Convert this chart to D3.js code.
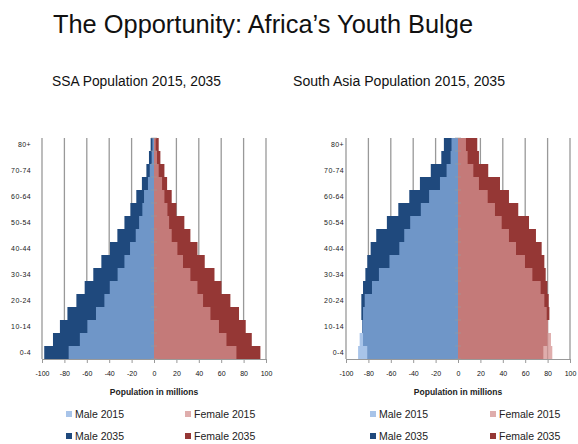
<!DOCTYPE html>
<html>
<head>
<meta charset="utf-8">
<script src="https://cdn.jsdelivr.net/npm/d3@7"></script>
<style>
    body { margin: 0; background: #fff; }
    svg { display: block; font-family: "Liberation Sans", Arial, sans-serif; }
</style>
</head>
<body>
<div id="chart"></div>
<script>
// Age groups, bottom to top
const ageGroups = ["0-4", "5-9", "10-14", "15-19", "20-24", "25-29", "30-34", "35-39", "40-44",
    "45-49", "50-54", "55-59", "60-64", "65-69", "70-74", "75-79", "80+"];
const ageLabels = ["0-4", "10-14", "20-24", "30-34", "40-44", "50-54", "60-64", "70-74", "80+"];
const xTicks = [-100, -80, -60, -40, -20, 0, 20, 40, 60, 80, 100];

// Sub-Saharan Africa, millions
const ssaMale2015 = [76.2, 66.2, 59.5, 51.8, 44.3, 39.5, 32.5, 26.4, 21.4, 16.3, 13.3, 10.4, 8.9, 5.4, 3.8, 2.1, 1.4];
const ssaMale2035 = [98.0, 90.2, 84.0, 77.3, 69.3, 61.9, 54.2, 47.0, 39.3, 32.7, 26.4, 21.1, 15.8, 10.8, 6.8, 4.5, 3.0];
const ssaFemale2015 = [73.6, 64.7, 58.0, 50.4, 43.8, 38.8, 32.5, 25.9, 20.9, 15.8, 13.5, 12.0, 9.3, 7.2, 4.2, 2.7, 1.5];
const ssaFemale2035 = [95.0, 87.3, 81.9, 75.9, 68.2, 60.2, 54.0, 45.3, 38.8, 32.5, 27.1, 20.0, 15.8, 11.7, 9.3, 5.7, 4.2];

// South Asia, millions
const saMale2015 = [89.2, 87.8, 85.4, 84.8, 83.3, 76.8, 70.6, 61.2, 52.4, 48.0, 42.7, 33.2, 25.8, 16.1, 10.2, 6.6, 5.8];
const saMale2035 = [81.0, 84.8, 85.6, 86.3, 86.3, 84.8, 82.7, 81.0, 78.0, 73.0, 63.5, 53.3, 43.5, 34.0, 24.3, 14.9, 12.6];
const saFemale2015 = [84.2, 83.0, 80.5, 79.2, 77.1, 73.8, 66.4, 59.8, 51.8, 45.5, 39.0, 33.0, 26.5, 18.7, 13.7, 8.6, 7.1];
const saFemale2035 = [76.2, 79.8, 80.2, 81.6, 81.0, 79.8, 78.3, 77.1, 74.7, 69.6, 63.4, 53.8, 45.5, 37.5, 27.0, 18.7, 17.2];

const colors = {
    male2015: "#8bb0e1", male2035: "#1f497d",
    female2015: "#d49290", female2035: "#953735"
};
const lightOpacity = 0.75;

const width = 578, height = 444;

const svg = d3.select("#chart").append("svg")
    .attr("width", width)
    .attr("height", height);

// Main title
svg.append("text")
    .attr("x", 53).attr("y", 33)
    .attr("font-size", 26)
    .attr("textLength", 420)
    .attr("lengthAdjust", "spacingAndGlyphs")
    .attr("fill", "#111")
    .text("The Opportunity: Africa\u2019s Youth Bulge");

class Pyramid {
    constructor(opts) {
        this.opts = opts;
        this.top = 138;
        this.bottom = 359;
        this.initVis();
    }

    initVis() {
        let vis = this;
        const o = vis.opts;

        vis.g = svg.append("g");

        vis.x = d3.scaleLinear().domain([-100, 100]).range([o.left, o.left + 224]);
        vis.y = d3.scaleBand().domain(ageGroups).range([vis.bottom, vis.top]).padding(0);

        // subtitle
        vis.g.append("text")
            .attr("x", o.titleX).attr("y", 86)
            .attr("font-size", 14)
            .attr("textLength", o.titleLen)
            .attr("lengthAdjust", "spacingAndGlyphs")
            .attr("fill", "#111")
            .text(o.title);

        // vertical gridlines
        vis.g.selectAll(".grid")
            .data(xTicks)
            .join("line")
            .attr("class", "grid")
            .attr("x1", d => vis.x(d)).attr("x2", d => vis.x(d))
            .attr("y1", vis.top).attr("y2", vis.bottom)
            .attr("stroke", "#999")
            .attr("stroke-width", 1.3);

        const rows = ageGroups.map((a, i) => ({
            age: a,
            m15: o.male2015[i], m35: o.male2035[i],
            f15: o.female2015[i], f35: o.female2035[i]
        }));

        // 2035 first (dark), then 2015 semi-transparent over it
        vis.drawBars(rows, d => d.m35, -1, colors.male2035, 1);
        vis.drawBars(rows, d => d.f35, 1, colors.female2035, 1);
        vis.drawBars(rows, d => d.m15, -1, colors.male2015, lightOpacity);
        vis.drawBars(rows, d => d.f15, 1, colors.female2015, lightOpacity);

        // small boundary ticks on the centre axis
        const x0 = vis.x(0);
        vis.g.selectAll(".ytick")
            .data(d3.range(ageGroups.length + 1))
            .join("line")
            .attr("class", "ytick")
            .attr("x1", x0 - 3).attr("x2", x0 + 3)
            .attr("y1", i => vis.bottom - i * vis.y.step())
            .attr("y2", i => vis.bottom - i * vis.y.step())
            .attr("stroke", "#9c9c9c")
            .attr("opacity", 0.6);

        // age labels
        vis.g.selectAll(".age")
            .data(ageLabels)
            .join("text")
            .attr("class", "age")
            .attr("x", o.labelX)
            .attr("y", d => vis.y(d) + vis.y.bandwidth() / 2 + 2.5)
            .attr("text-anchor", "end")
            .attr("font-size", 7)
            .attr("letter-spacing", 0.4)
            .attr("fill", "#222")
            .text(d => d);

        // bottom axis
        const xAxis = d3.axisBottom(vis.x)
            .tickValues(xTicks)
            .tickSize(4)
            .tickPadding(8)
            .tickFormat(d => String(d));
        const ax = vis.g.append("g")
            .attr("transform", `translate(0,${vis.bottom})`)
            .call(xAxis);
        ax.select(".domain").attr("stroke", "#999");
        ax.selectAll(".tick line").attr("stroke", "#999");
        ax.selectAll("text")
            .attr("font-size", 7)
            .attr("font-family", "Liberation Sans, Arial, sans-serif")
            .attr("fill", "#111");

        vis.g.append("text")
            .attr("x", x0).attr("y", 395)
            .attr("text-anchor", "middle")
            .attr("font-size", 8.5)
            .attr("font-weight", "bold")
            .attr("fill", "#222")
            .text("Population in millions");

        vis.drawLegend();
    }

    drawBars(rows, val, side, color, op) {
        let vis = this;
        vis.g.append("g")
            .selectAll("rect")
            .data(rows)
            .join("rect")
            .attr("x", d => side < 0 ? vis.x(-val(d)) : vis.x(0))
            .attr("width", d => Math.abs(vis.x(side * val(d)) - vis.x(0)))
            .attr("y", d => vis.y(d.age))
            .attr("height", vis.y.bandwidth())
            .attr("fill", color)
            .attr("fill-opacity", op);
    }

    drawLegend() {
        let vis = this;
        const o = vis.opts;
        const items = [
            {label: "Male 2015", color: colors.male2015, op: lightOpacity, col: 0, row: 0},
            {label: "Female 2015", color: colors.female2015, op: lightOpacity, col: 1, row: 0},
            {label: "Male 2035", color: colors.male2035, op: 1, col: 0, row: 1},
            {label: "Female 2035", color: colors.female2035, op: 1, col: 1, row: 1}
        ];
        const lg = vis.g.selectAll(".legend")
            .data(items)
            .join("g")
            .attr("class", "legend")
            .attr("transform", d => `translate(${o.legendX[d.col]},${414 + d.row * 22})`);
        lg.append("rect")
            .attr("x", 0).attr("y", -3)
            .attr("width", 6).attr("height", 6)
            .attr("fill", d => d.color)
            .attr("fill-opacity", d => d.op);
        lg.append("text")
            .attr("x", 9).attr("y", 3.8)
            .attr("font-size", 10.5)
            .attr("fill", "#222")
            .text(d => d.label);
    }
}

new Pyramid({
    title: "SSA Population 2015, 2035", titleX: 52, titleLen: 169,
    left: 42, labelX: 31, legendX: [66, 185],
    male2015: ssaMale2015, male2035: ssaMale2035,
    female2015: ssaFemale2015, female2035: ssaFemale2035
});

new Pyramid({
    title: "South Asia Population 2015, 2035", titleX: 293, titleLen: 212,
    left: 346, labelX: 344, legendX: [370, 490],
    male2015: saMale2015, male2035: saMale2035,
    female2015: saFemale2015, female2035: saFemale2035
});
</script>
</body>
</html>
